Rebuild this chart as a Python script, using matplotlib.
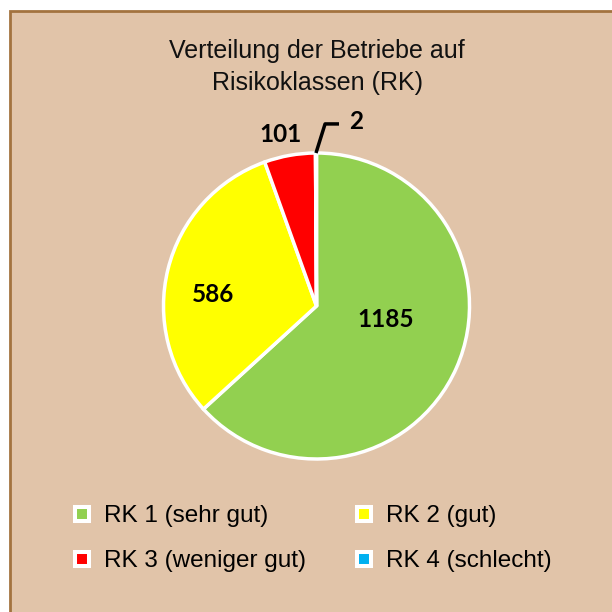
import numpy as np
import matplotlib
matplotlib.use("Agg")
import matplotlib.pyplot as plt
from matplotlib.patches import Rectangle
from matplotlib.lines import Line2D

# data
categories = ["RK 1 (sehr gut)", "RK 2 (gut)", "RK 3 (weniger gut)", "RK 4 (schlecht)"]
counts = [1185, 586, 101, 2]
colors = ["#92D050", "#FFFF00", "#FF0000", "#00B0F0"]
title = "Verteilung der Betriebe auf\nRisikoklassen (RK)"

plt.rcParams["font.family"] = ["Liberation Sans", "DejaVu Sans"]

W = 612
fig = plt.figure(figsize=(6.12, 6.12), dpi=100, facecolor="white")

# chart area background with border (cropped on right/bottom)
fig.patches.append(Rectangle((10 / W, -0.05), 1.1, 1 - 11 / W + 0.05,
                             transform=fig.transFigure, facecolor="#E1C4A9",
                             edgecolor="#A3733F", linewidth=2, zorder=-10))

fig.text(317 / W, 1 - 67 / W, title, ha="center", va="center",
         fontsize=18, linespacing=1.4, color="#111111")

# pie axes: center (316.5, 306), radius 153
cx, cy, r = 316.5, 306, 153
ax = fig.add_axes([(cx - r) / W, 1 - (cy + r) / W, 2 * r / W, 2 * r / W])
ax.set_facecolor("none")
wedges, _ = ax.pie(counts, colors=colors, startangle=90, counterclock=False,
                   wedgeprops=dict(edgecolor="white", linewidth=2.5))
ax.set_xlim(-1, 1)
ax.set_ylim(-1, 1)
ax.set_aspect("equal")
ax.axis("off")

# data labels (position in axes units relative to the pie)
label_pos = [(0.451, -0.085), (-0.673, 0.075), (-0.232, 1.124), (0.258, 1.206)]
for val, (lx, ly) in zip(counts, label_pos):
    ax.text(lx, ly, str(val), ha="center", va="center", fontsize=17.5,
            fontweight="bold", family=["Lato", "DejaVu Sans"], color="black",
            clip_on=False)

# leader line for the tiny slice
w = wedges[3]
mid = np.deg2rad((w.theta1 + w.theta2) / 2)
ax.plot([np.cos(mid), 0.056, 0.147], [np.sin(mid), 1.19, 1.19],
        color="black", lw=2.5, solid_capstyle="butt", clip_on=False)

handles = [Line2D([], [], marker="s", linestyle="none", markersize=9.4,
                  markerfacecolor=c, markeredgecolor="white",
                  markeredgewidth=2.9) for c in colors]
order = [0, 2, 1, 3]  # row-wise order like the original
fig.legend([handles[i] for i in order], [categories[i] for i in order],
           loc="upper left", bbox_to_anchor=(60 / W, 1 - 493 / W), ncol=2,
           frameon=False, fontsize=17.5, handlelength=0.8, handletextpad=0.5,
           columnspacing=2.0, labelspacing=0.95, borderpad=0)

fig.savefig("out.png", dpi=100, facecolor="white")
